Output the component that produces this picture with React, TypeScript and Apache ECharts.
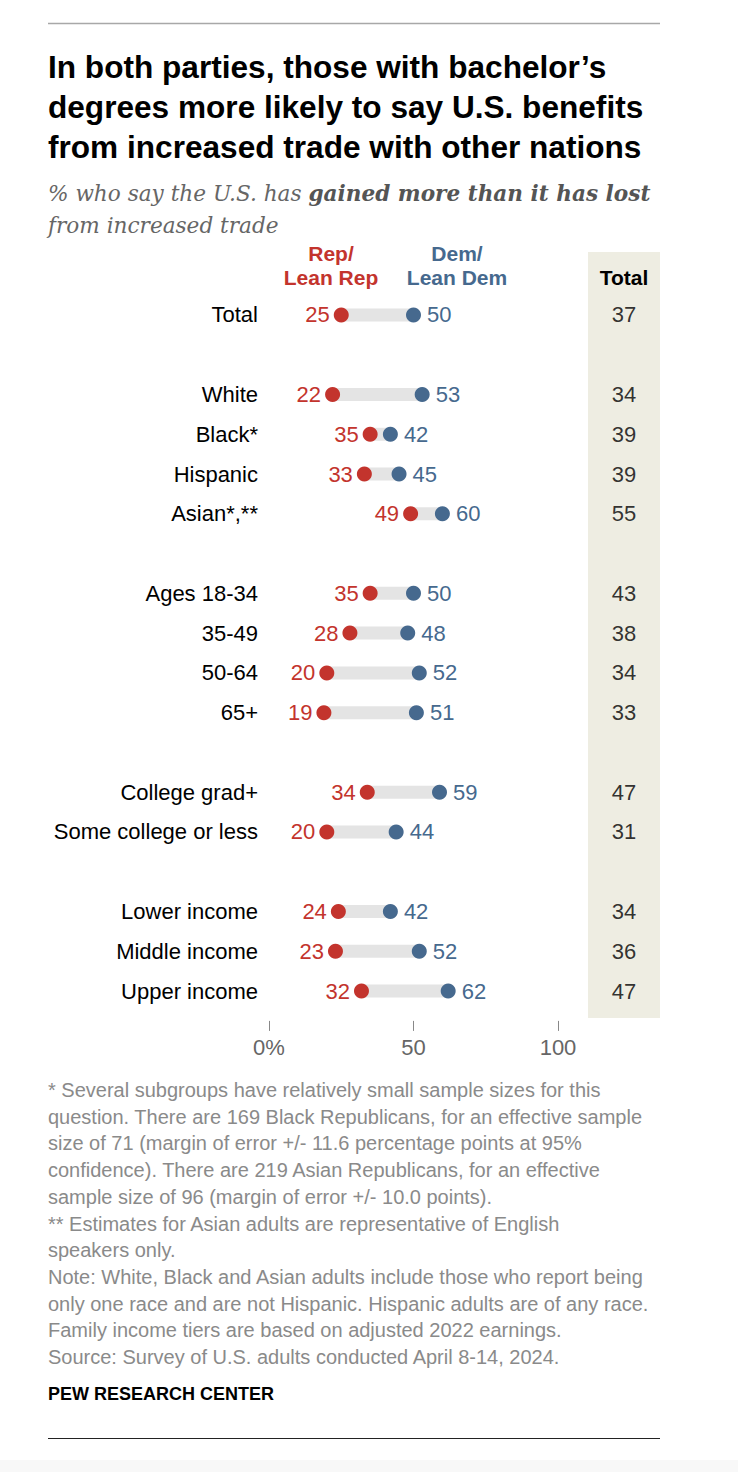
import React, { useEffect, useRef } from "react";
import * as echarts from "echarts";

const categories = [
  "Total",
  "White",
  "Black*",
  "Hispanic",
  "Asian*,**",
  "Ages 18-34",
  "35-49",
  "50-64",
  "65+",
  "College grad+",
  "Some college or less",
  "Lower income",
  "Middle income",
  "Upper income",
];
const groupSizes = [1, 4, 4, 2, 3];
const repValues = [25, 22, 35, 33, 49, 35, 28, 20, 19, 34, 20, 24, 23, 32];
const demValues = [50, 53, 42, 45, 60, 50, 48, 52, 51, 59, 44, 42, 52, 62];
const totalValues = [37, 34, 39, 39, 55, 43, 38, 34, 33, 47, 31, 34, 36, 47];
const xTickLabels = ["0%", "50", "100"];

const titleLines = [
  "In both parties, those with bachelor’s",
  "degrees more likely to say U.S. benefits",
  "from increased trade with other nations",
];
const subtitleStart = "% who say the U.S. has ";
const subtitleBold = "gained more than it has lost";
const subtitleEnd = "from increased trade";
const repHeader = ["Rep/", "Lean Rep"];
const demHeader = ["Dem/", "Lean Dem"];
const totalHeader = "Total";
const noteLines = [
  "* Several subgroups have relatively small sample sizes for this",
  "question. There are 169 Black Republicans, for an effective sample",
  "size of 71 (margin of error +/- 11.6 percentage points at 95%",
  "confidence). There are 219 Asian Republicans, for an effective",
  "sample size of 96 (margin of error +/- 10.0 points).",
  "** Estimates for Asian adults are representative of English",
  "speakers only.",
  "Note: White, Black and Asian adults include those who report being",
  "only one race and are not Hispanic. Hispanic adults are of any race.",
  "Family income tiers are based on adjusted 2022 earnings.",
  "Source: Survey of U.S. adults conducted April 8-14, 2024.",
];
const sourceLabel = "PEW RESEARCH CENTER";

const RED = "#c3342d";
const BLUE = "#46698e";
const SANS = "'Liberation Sans', Arial, sans-serif";
const SERIF = "'DejaVu Serif', 'Liberation Serif', Georgia, serif";

function buildOption() {
  const slots: string[] = [];
  let idx = 0;
  groupSizes.forEach((size, gi) => {
    if (gi > 0) slots.push(" ".repeat(gi));
    for (let k = 0; k < size; k++) {
      slots.push(categories[idx]);
      idx++;
    }
  });
  const baseData = slots.map((s) => {
    const i = categories.indexOf(s);
    return i >= 0 ? repValues[i] : "-";
  });
  const spanData = slots.map((s) => {
    const i = categories.indexOf(s);
    return i >= 0 ? demValues[i] - repValues[i] : "-";
  });
  const repData = categories.map((c, i) => [repValues[i], c]);
  const demData = categories.map((c, i) => [demValues[i], c]);
  const totData = categories.map((c, i) => [0.5, c, totalValues[i]]);

  const gridTop = 295.1;
  const gridHeight = 715.8;

  const graphic: any[] = [
    { type: "rect", z: 0, shape: { x: 0, y: 1460, width: 738, height: 12 }, style: { fill: "#f8f8f8" } },
    { type: "line", shape: { x1: 48, y1: 23.5, x2: 660, y2: 23.5 }, style: { stroke: "#a8a8a8", lineWidth: 1.5 } },
    { type: "line", shape: { x1: 48, y1: 1438.5, x2: 660, y2: 1438.5 }, style: { stroke: "#222", lineWidth: 1 } },
    { type: "rect", z: 0, shape: { x: 588, y: 252, width: 72, height: 766 }, style: { fill: "#eeede2" } },
  ];
  titleLines.forEach((t, i) => {
    graphic.push({
      type: "text",
      x: 48,
      y: 67 + i * 40,
      style: { text: t, font: `bold 31.6px ${SANS}`, fill: "#000", align: "left", verticalAlign: "middle" },
    });
  });
  graphic.push({
    type: "text",
    x: 48,
    y: 193,
    style: {
      text: `{a|${subtitleStart}}{b|${subtitleBold}}`,
      align: "left",
      verticalAlign: "middle",
      rich: {
        a: { font: `italic 21.6px ${SERIF}`, fill: "#666" },
        b: { font: `italic bold 21.6px ${SERIF}`, fill: "#555" },
      },
    },
  });
  graphic.push({
    type: "text",
    x: 48,
    y: 225,
    style: { text: subtitleEnd, font: `italic 21.6px ${SERIF}`, fill: "#666", align: "left", verticalAlign: "middle" },
  });
  repHeader.forEach((t, i) => {
    graphic.push({
      type: "text",
      x: 331,
      y: 253 + i * 24,
      style: { text: t, font: `bold 21px ${SANS}`, fill: RED, align: "center", verticalAlign: "middle" },
    });
  });
  demHeader.forEach((t, i) => {
    graphic.push({
      type: "text",
      x: 457,
      y: 253 + i * 24,
      style: { text: t, font: `bold 21px ${SANS}`, fill: BLUE, align: "center", verticalAlign: "middle" },
    });
  });
  graphic.push({
    type: "text",
    x: 624,
    y: 277,
    style: { text: totalHeader, font: `bold 21px ${SANS}`, fill: "#000", align: "center", verticalAlign: "middle" },
  });
  noteLines.forEach((t, i) => {
    graphic.push({
      type: "text",
      x: 48,
      y: 1090 + i * 26.7,
      style: { text: t, font: `20px ${SANS}`, fill: "#8a8a8a", align: "left", verticalAlign: "middle" },
    });
  });
  graphic.push({
    type: "text",
    x: 48,
    y: 1394,
    style: { text: sourceLabel, font: `bold 18px ${SANS}`, fill: "#000", align: "left", verticalAlign: "middle" },
  });

  return {
    animation: false,
    backgroundColor: "#fff",
    graphic,
    grid: [
      { left: 269, width: 289, top: gridTop, height: gridHeight },
      { left: 588, width: 72, top: gridTop, height: gridHeight },
    ],
    xAxis: [
      {
        type: "value",
        gridIndex: 0,
        min: 0,
        max: 100,
        interval: 50,
        position: "bottom",
        offset: 10,
        axisLine: { show: false },
        axisTick: { show: true, length: 10, lineStyle: { color: "#888", width: 1 } },
        splitLine: { show: false },
        axisLabel: {
          margin: 16,
          fontSize: 22,
          color: "#666",
          fontFamily: SANS,
          formatter: (v: number) => xTickLabels[Math.round(v / 50)] ?? String(v),
        },
      },
      { type: "value", gridIndex: 1, min: 0, max: 1, show: false },
    ],
    yAxis: [
      {
        type: "category",
        gridIndex: 0,
        data: slots,
        inverse: true,
        axisLine: { show: false },
        axisTick: { show: false },
        splitLine: { show: false },
        axisLabel: { margin: 11, fontSize: 22, color: "#000", fontFamily: SANS },
      },
      { type: "category", gridIndex: 1, data: slots, inverse: true, show: false },
    ],
    series: [
      {
        type: "bar",
        stack: "range",
        data: baseData,
        barWidth: 13,
        itemStyle: { color: "rgba(0,0,0,0)" },
        silent: true,
      },
      {
        type: "bar",
        stack: "range",
        data: spanData,
        barWidth: 13,
        itemStyle: { color: "#e4e4e4" },
        silent: true,
      },
      {
        type: "scatter",
        data: repData,
        symbolSize: 15,
        itemStyle: { color: RED, opacity: 1 },
        label: {
          show: true,
          position: "left",
          distance: 4,
          formatter: (p: any) => String(p.value[0]),
          fontSize: 22,
          color: RED,
          fontFamily: SANS,
        },
      },
      {
        type: "scatter",
        data: demData,
        symbolSize: 15,
        itemStyle: { color: BLUE, opacity: 1 },
        label: {
          show: true,
          position: "right",
          distance: 6,
          formatter: (p: any) => String(p.value[0]),
          fontSize: 22,
          color: BLUE,
          fontFamily: SANS,
        },
      },
      {
        type: "scatter",
        xAxisIndex: 1,
        yAxisIndex: 1,
        data: totData,
        symbolSize: 1,
        itemStyle: { color: "rgba(0,0,0,0)" },
        label: {
          show: true,
          position: "inside",
          formatter: (p: any) => String(p.value[2]),
          fontSize: 22,
          color: "#000",
          fontFamily: SANS,
        },
      },
    ],
  };
}

export default function App() {
  const ref = useRef<HTMLDivElement>(null);
  useEffect(() => {
    if (!ref.current) return;
    const chart = echarts.init(ref.current, null, { renderer: "svg" });
    chart.setOption(buildOption() as any);
    return () => chart.dispose();
  }, []);
  return (
    <div
      ref={ref}
      style={{ position: "absolute", left: 0, top: 0, width: 738, height: 1472, background: "#fff" }}
    />
  );
}
